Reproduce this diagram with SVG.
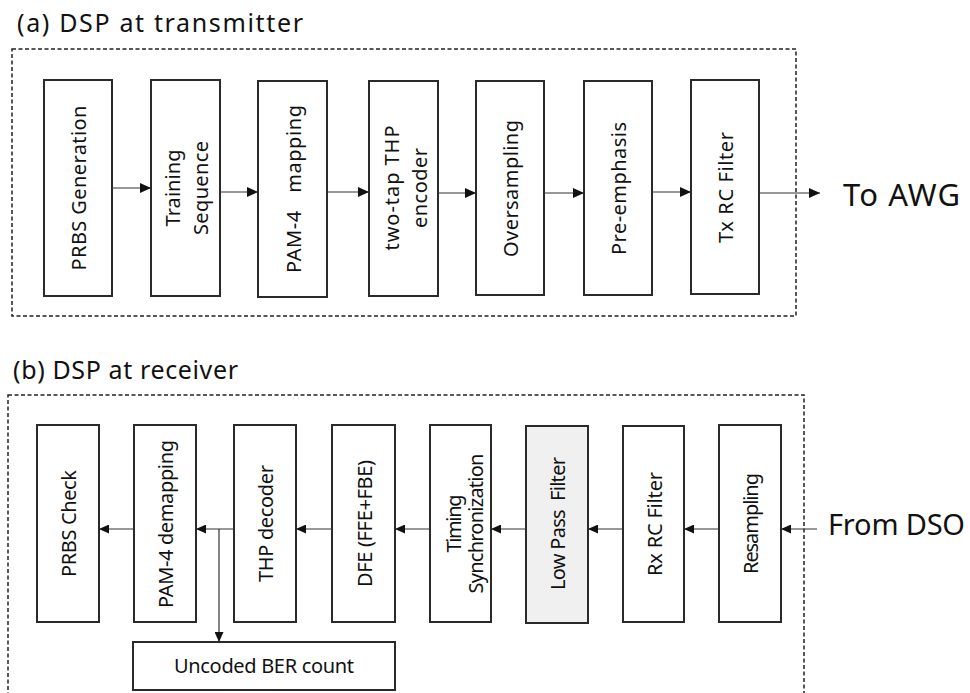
<svg xmlns="http://www.w3.org/2000/svg" width="970" height="693" viewBox="0 0 970 693">
  <style>
    .title { font-family: "Noto Sans", "Open Sans", sans-serif; font-size: 25px; fill: #111; }
    .big { font-family: "Noto Sans", "Open Sans", sans-serif; font-size: 31px; fill: #111; }
    .lbl { font-family: "Noto Sans", "Open Sans", sans-serif; font-size: 20px; fill: #111; text-anchor: middle; }
    .pre { white-space: pre; }
    .blk { fill: #fff; stroke: #2a2a2a; stroke-width: 2; }
    .frame { fill: none; stroke: #222; stroke-width: 1.5; stroke-dasharray: 4 2.5; }
    .wire { fill: none; stroke: #333; stroke-width: 1.2; }
  </style>
  <defs>
    <marker id="ah" markerUnits="userSpaceOnUse" markerWidth="12" markerHeight="10" refX="11" refY="5" orient="auto">
      <path d="M0,0 L11,5 L0,10 z" fill="#111"/>
    </marker>
    <marker id="ahs" markerUnits="userSpaceOnUse" markerWidth="11" markerHeight="9" refX="10" refY="4.5" orient="auto">
      <path d="M0,0 L10,4.5 L0,9 z" fill="#111"/>
    </marker>
  </defs>

  <!-- (a) transmitter chain -->
  <text class="title" x="17" y="32" textLength="286">(a) DSP at transmitter</text>
  <rect class="frame" x="12" y="49" width="784" height="267"/>

  <g id="tx-prbs"><rect class="blk" x="44" y="80" width="68" height="216"/>
    <text class="lbl" transform="translate(78,188) rotate(-90)" dy="8" textLength="165">PRBS Generation</text></g>
  <g id="tx-training"><rect class="blk" x="151" y="80" width="69" height="216"/>
    <text class="lbl" transform="translate(185.5,188) rotate(-90)"><tspan x="0" dy="-5.5" textLength="77">Training</tspan><tspan x="0" dy="28" textLength="94">Sequence</tspan></text></g>
  <g id="tx-pam4"><rect class="blk" x="258" y="81" width="69" height="216"/>
    <text class="lbl pre" transform="translate(292.5,189) rotate(-90)" dy="8" textLength="168">PAM-4   mapping</text></g>
  <g id="tx-thp"><rect class="blk" x="369" y="81" width="69" height="215"/>
    <text class="lbl" transform="translate(403.5,188) rotate(-90)"><tspan x="0" dy="-5" textLength="125">two-tap THP</tspan><tspan x="0" dy="28" textLength="80">encoder</tspan></text></g>
  <g id="tx-oversampling"><rect class="blk" x="476" y="81" width="68" height="214"/>
    <text class="lbl" transform="translate(510,188.5) rotate(-90)" dy="8" textLength="137">Oversampling</text></g>
  <g id="tx-preemph"><rect class="blk" x="584" y="81" width="68" height="214"/>
    <text class="lbl" transform="translate(618,188.5) rotate(-90)" dy="8" textLength="133">Pre-emphasis</text></g>
  <g id="tx-rc"><rect class="blk" x="691" y="80" width="68" height="214"/>
    <text class="lbl" transform="translate(725,187.5) rotate(-90)" dy="8" textLength="111">Tx RC Filter</text></g>
  <g id="to-awg"><text class="big" x="843" y="206" textLength="117">To AWG</text></g>

  <g id="tx-connectors">
    <line class="wire" x1="112" y1="188" x2="151" y2="188" marker-end="url(#ah)"/>
    <line class="wire" x1="220" y1="192" x2="258" y2="192" marker-end="url(#ah)"/>
    <line class="wire" x1="327" y1="192" x2="369" y2="192" marker-end="url(#ah)"/>
    <line class="wire" x1="438" y1="193" x2="476" y2="193" marker-end="url(#ah)"/>
    <line class="wire" x1="544" y1="193" x2="584" y2="193" marker-end="url(#ah)"/>
    <line class="wire" x1="652" y1="192" x2="691" y2="192" marker-end="url(#ah)"/>
    <line class="wire" x1="759" y1="193" x2="820" y2="193" marker-end="url(#ah)"/>
  </g>

  <!-- (b) receiver chain -->
  <text class="title" x="13" y="379" textLength="225">(b) DSP at receiver</text>
  <rect class="frame" x="8" y="395" width="796" height="320"/>

  <g id="rx-prbs"><rect class="blk" x="37" y="425" width="62" height="197"/>
    <text class="lbl" transform="translate(68,523.5) rotate(-90)" dy="8" textLength="107">PRBS Check</text></g>
  <g id="rx-pam4"><rect class="blk" x="134" y="425" width="62" height="197"/>
    <text class="lbl" transform="translate(165,524) rotate(-90)" dy="8" textLength="168">PAM-4 demapping</text></g>
  <g id="rx-thp"><rect class="blk" x="234" y="425" width="62" height="197"/>
    <text class="lbl" transform="translate(265,523.5) rotate(-90)" dy="8" textLength="117">THP decoder</text></g>
  <g id="rx-dfe"><rect class="blk" x="332" y="425" width="63" height="197"/>
    <text class="lbl" transform="translate(363.5,523.5) rotate(-90)" dy="8" textLength="127">DFE (FFE+FBE)</text></g>
  <g id="rx-timing"><rect class="blk" x="430" y="425" width="61" height="197"/>
    <text class="lbl" transform="translate(460.5,523.5) rotate(-90)"><tspan x="0" dy="0" textLength="58">Timing</tspan><tspan x="0" dy="22" textLength="140">Synchronization</tspan></text></g>
  <g id="rx-lpf"><rect class="blk" x="526" y="426" width="62" height="197" style="fill:#f0f0f0"/>
    <text class="lbl pre" transform="translate(557,523.5) rotate(-90)" dy="8" textLength="133">Low Pass  Filter</text></g>
  <g id="rx-rc"><rect class="blk" x="623" y="426" width="61" height="196"/>
    <text class="lbl" transform="translate(653.5,524) rotate(-90)" dy="8" textLength="104">Rx RC Filter</text></g>
  <g id="rx-resampling"><rect class="blk" x="719" y="425" width="62" height="197"/>
    <text class="lbl" transform="translate(750,523.5) rotate(-90)" dy="8" textLength="101">Resampling</text></g>
  <g id="rx-ber"><rect class="blk" x="133" y="642" width="262" height="48"/>
    <text class="lbl" x="264" y="673" textLength="180">Uncoded BER count</text></g>
  <g id="from-dso"><text class="big" x="828" y="535" style="font-size:29px" textLength="137">From DSO</text></g>

  <g id="rx-connectors">
    <line class="wire" x1="817" y1="529" x2="781" y2="529" marker-end="url(#ahs)"/>
    <line class="wire" x1="719" y1="529" x2="684" y2="529" marker-end="url(#ahs)"/>
    <line class="wire" x1="623" y1="529" x2="588" y2="529" marker-end="url(#ahs)"/>
    <line class="wire" x1="526" y1="529" x2="491" y2="529" marker-end="url(#ahs)"/>
    <line class="wire" x1="430" y1="529" x2="395" y2="529" marker-end="url(#ahs)"/>
    <line class="wire" x1="332" y1="529" x2="296" y2="529" marker-end="url(#ahs)"/>
    <line class="wire" x1="234" y1="529" x2="196" y2="529" marker-end="url(#ahs)"/>
    <line class="wire" x1="134" y1="529" x2="99" y2="529" marker-end="url(#ahs)"/>
    <line class="wire" x1="219" y1="529" x2="219" y2="642" marker-end="url(#ahs)"/>
  </g>
</svg>
